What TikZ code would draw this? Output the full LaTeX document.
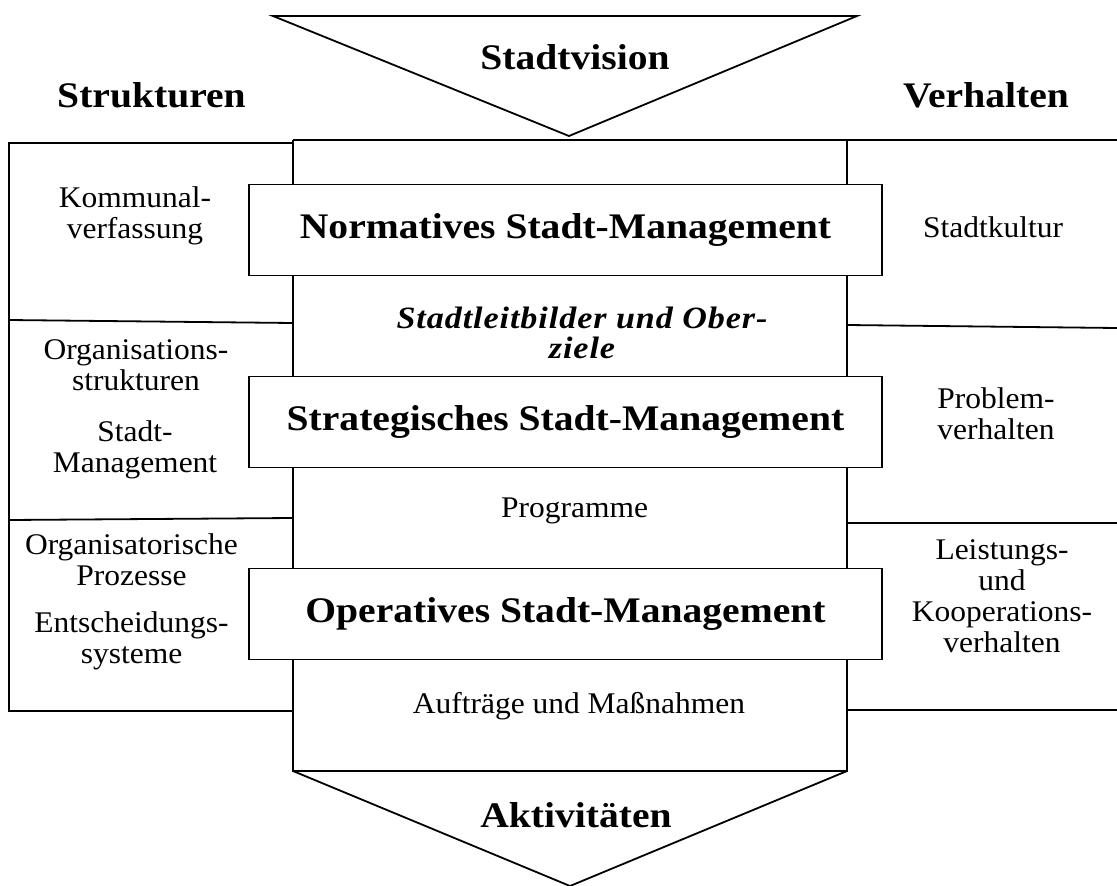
\documentclass[tikz,border=0pt]{standalone}
\usepackage{fontspec}
\setmainfont{Liberation Serif}[FakeStretch=1.05]
\newfontfamily\hbfont{Liberation Serif}[FakeStretch=1.1]
\newfontfamily\hbifont{Liberation Serif}[FakeStretch=1.1,LetterSpace=3]
\tikzset{
  frame/.style={line width=1.8pt, line join=miter},
  title/.style={font=\hbfont\bfseries\fontsize{36}{38}\selectfont, inner sep=0},
  level/.style={draw, line width=1.8pt, fill=white, minimum width=633pt, minimum height=91pt, inner sep=0, font=\hbfont\bfseries\fontsize{36}{38}\selectfont},
  lbl/.style={font=\fontsize{30}{31}\selectfont, align=center, inner sep=0},
  midlbl/.style={font=\hbifont\bfseries\itshape\fontsize{31}{30}\selectfont, align=center, inner sep=0},
}
\begin{document}
\begin{tikzpicture}[x=1pt,y=-1pt]
\useasboundingbox (0,0) rectangle (1117,886);
% coordinates of the frame
\coordinate (tl) at (273,16);
\coordinate (tr) at (857,16);
\coordinate (tapex) at (569,136);
\coordinate (cTL) at (293,140);
\coordinate (cTR) at (847,140);
\coordinate (cBL) at (293,771);
\coordinate (cBR) at (847,771);
\coordinate (bapex) at (570,886);
% top triangle
\draw[frame] (tl) -- (tr) -- (tapex) -- cycle;
% central column
\draw[frame] (cTL) -- (cTR);
\draw[frame] (cTL) -- (cBL) -- (cBR) -- (cTR);
% bottom triangle
\draw[frame] (cBL) -- (bapex) -- (cBR);
% left box
\coordinate (lTL) at (9,143);
\coordinate (lBL) at (9,711);
\draw[frame] (293,143) -- (lTL) -- (lBL) -- (293,711);
\draw[frame] (9,320) -- (293,323);
\draw[frame] (9,520) -- (293,518);
% right box
\draw[frame] (847,140) -- (1117,140);
\draw[frame] (847,325) -- (1117,328);
\draw[frame] (847,523) -- (1117,523);
\draw[frame] (847,710) -- (1117,710);
% level boxes
\node[level] (norm) at (565.5,230) {Normatives Stadt-Management};
\node[level] (strat) at (565.5,422) {Strategisches Stadt-Management};
\node[level] (oper) at (565.5,614) {Operatives Stadt-Management};
% titles
\node[title, anchor=base] (vision) at (575,69) {Stadtvision};
\node[title, anchor=base] (strukt) at (151.5,107) {Strukturen};
\node[title, anchor=base] (verh) at (986,107) {Verhalten};
\node[title, anchor=base] (akt) at (576,827) {Aktivitäten};
% middle labels (anchor base = last line)
\node[midlbl, anchor=base] (leit) at (582,358) {Stadtleitbilder und Ober-\\ziele};
\node[lbl, anchor=base] (prog) at (574.5,517) {Programme};
\node[lbl, anchor=base] (auftr) at (579,713) {Aufträge und Maßnahmen};
% left labels
\node[lbl, anchor=base] (komm) at (135,238) {Kommunal-\\verfassung};
\node[lbl, anchor=base] (orgs) at (136,390) {Organisations-\\strukturen};
\node[lbl, anchor=base] (stm) at (135,472) {Stadt-\\Management};
\node[lbl, anchor=base] (orgp) at (131.5,585) {Organisatorische\\Prozesse};
\node[lbl, anchor=base] (ents) at (131.5,663) {Entscheidungs-\\systeme};
% right labels
\node[lbl, anchor=base] (kult) at (993,237) {Stadtkultur};
\node[lbl, anchor=base] (probl) at (996,439) {Problem-\\verhalten};
\node[lbl, anchor=base] (leist) at (1002,652) {Leistungs-\\und\\Kooperations-\\verhalten};
\end{tikzpicture}
\end{document}
